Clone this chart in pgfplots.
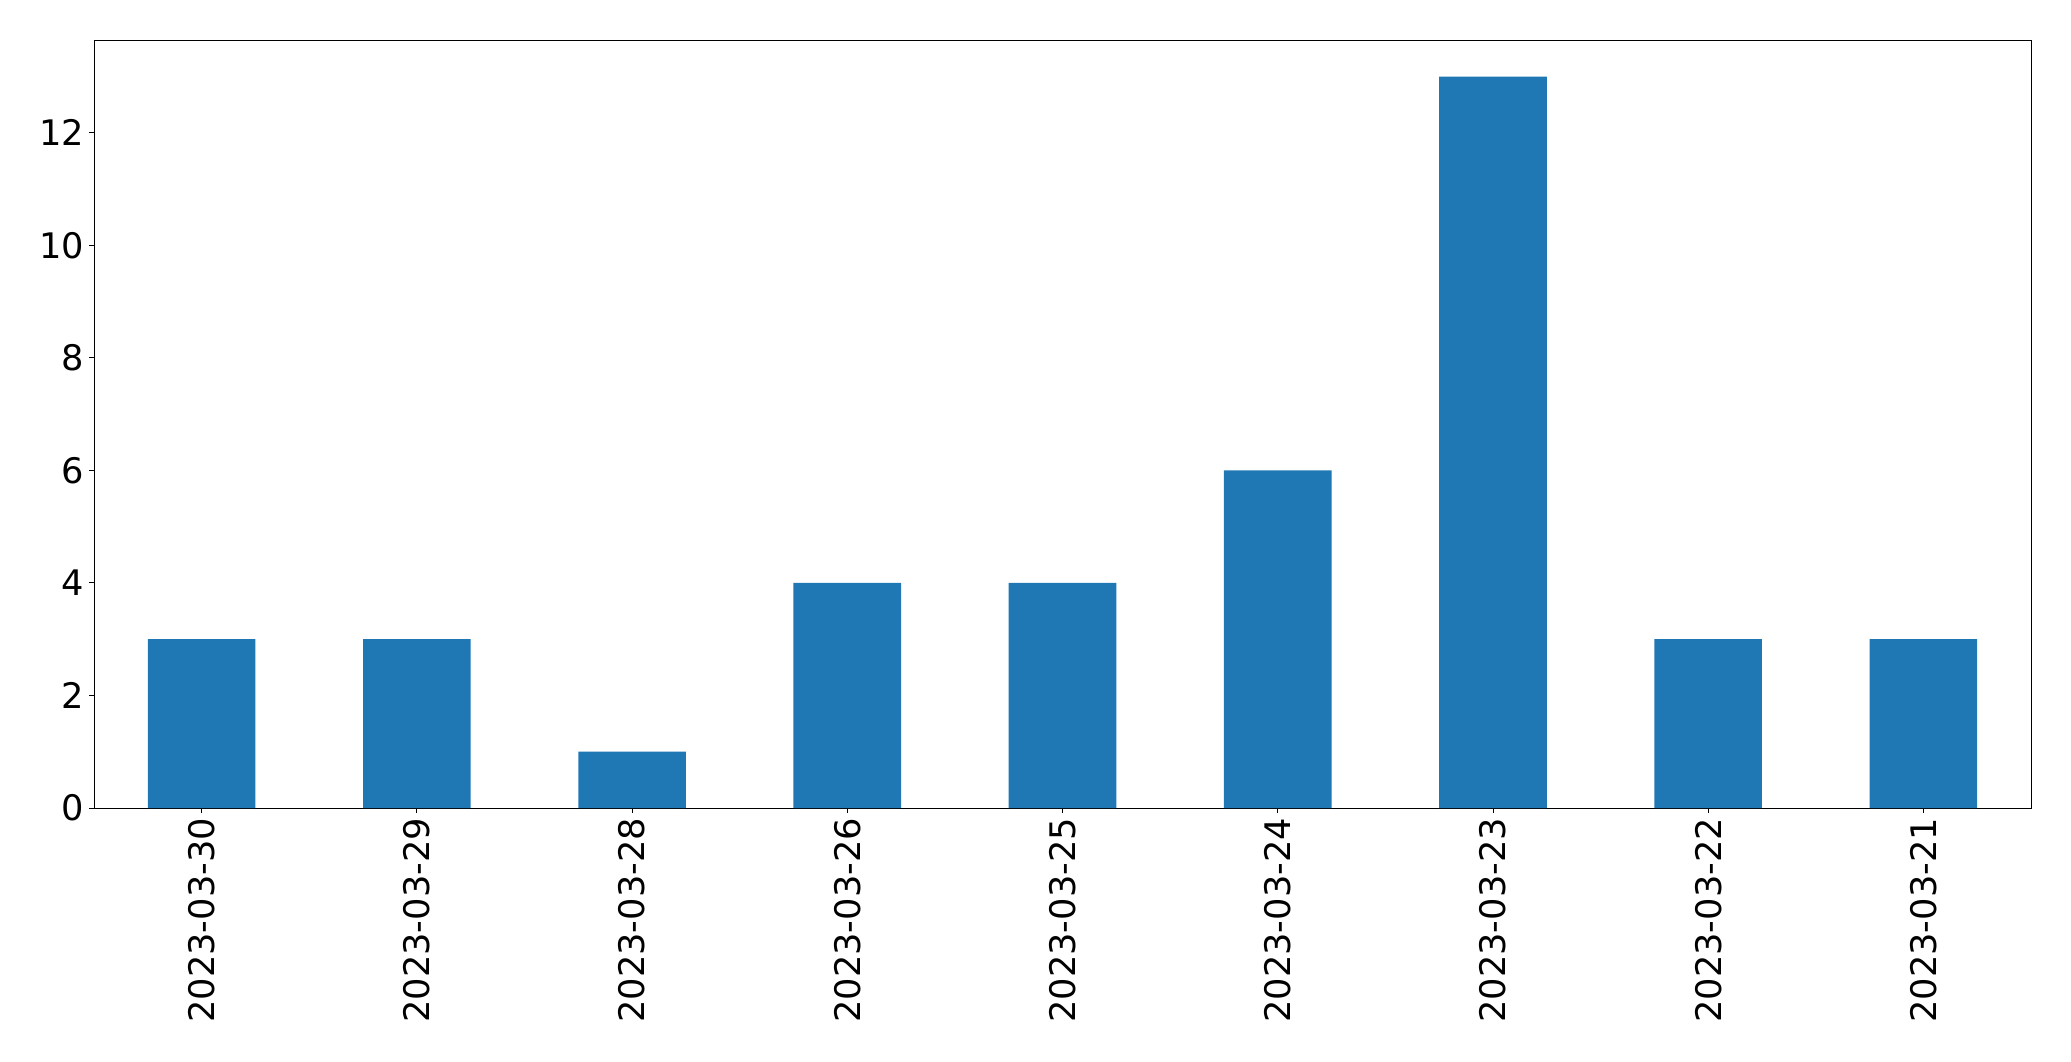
\documentclass[border=0pt]{standalone}
\usepackage{fontspec}
\setmainfont{DejaVu Sans}
\usepackage{pgfplots}
\pgfplotsset{compat=1.18}
\definecolor{mplblue}{HTML}{1F77B4}
\begin{document}
\begin{tikzpicture}
\path[use as bounding box] (-47pt,-126.5pt) rectangle (988.5pt,404pt);
\begin{axis}[
  at={(0pt,0pt)}, anchor=south west,
  scale only axis, width=968.5pt, height=384pt,
  xmin=-0.5, xmax=8.5, ymin=0, ymax=13.65,
  xtick={0,1,2,3,4,5,6,7,8},
  xticklabels={2023-03-30,2023-03-29,2023-03-28,2023-03-26,2023-03-25,2023-03-24,2023-03-23,2023-03-22,2023-03-21},
  ytick={0,2,4,6,8,10,12},
  tick align=outside, major tick length=2.43pt,
  tick style={line width=0.45pt, black},
  axis line style={line width=0.45pt},
  xtick pos=bottom, ytick pos=left,
  /pgf/number format/assume math mode=true,
  ticklabel style={font=\fontsize{17.6}{20}\selectfont},
  xticklabel style={rotate=90, anchor=east, inner sep=0pt, outer sep=2.6pt},
  yticklabel style={anchor=east, inner sep=0pt, outer sep=2.4pt},
  ybar, bar width=0.5,
]
\addplot[fill=mplblue, draw=none] coordinates {
(0,3) (1,3) (2,1) (3,4) (4,4) (5,6) (6,13) (7,3) (8,3)
};
\end{axis}
\end{tikzpicture}
\end{document}
